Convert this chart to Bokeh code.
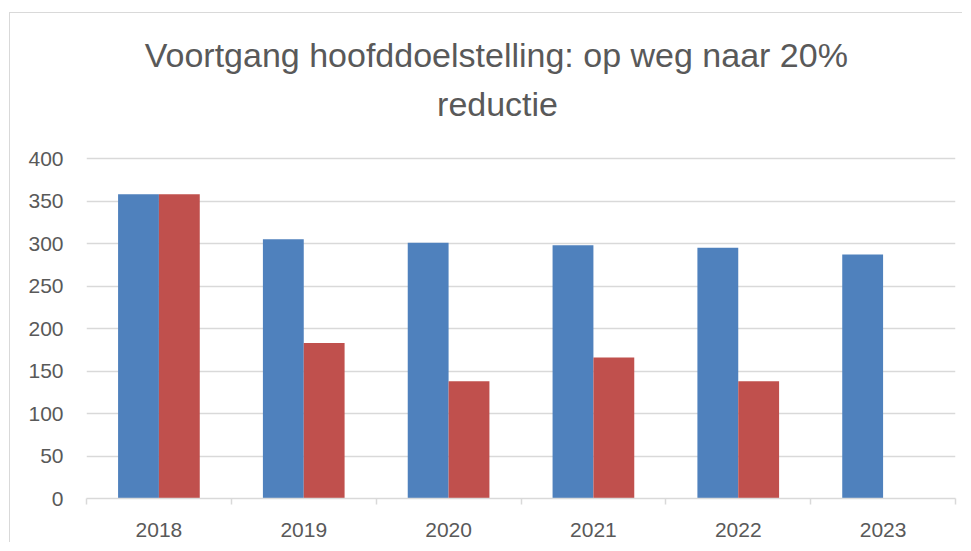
import numpy as np
from bokeh.plotting import figure
from bokeh.models import Range1d, FixedTicker, Label, ColumnDataSource
from bokeh.embed import file_html
from bokeh.resources import INLINE

# ---- data ----
years = ["2018", "2019", "2020", "2021", "2022", "2023"]
blue_values = [358, 305, 301, 298, 295, 287]
red_values = [358, 183, 138, 166, 138, np.nan]
title_line1 = "Voortgang hoofddoelstelling:  op weg naar 20%"
title_line2 = "reductie"
y_ticks = [0, 50, 100, 150, 200, 250, 300, 350, 400]

BLUE = "#4F81BD"
RED = "#C0504D"
GRID = "#D9D9D9"
TEXT = "#595959"
FONT = "Liberation Sans"

idx = np.arange(len(years))
centers = idx + 0.5
bar_w = 0.282

src = ColumnDataSource(dict(
    xb=centers - bar_w / 2, xr=centers + bar_w / 2,
    blue=blue_values, red=red_values,
))

# frame extends above the 400 grid line to leave room for the title
p = figure(width=953, height=530, output_backend="svg", toolbar_location=None,
           x_range=Range1d(0, len(years)), y_range=Range1d(0, 560),
           min_border_left=76, min_border_right=8, min_border_top=9,
           min_border_bottom=45)
p.margin = (12, 0, 0, 9)
p.styles = {"border-left": "1px solid #D9D9D9", "border-top": "1px solid #D9D9D9"}
p.outline_line_color = None
p.background_fill_color = "white"
p.border_fill_color = "white"

p.vbar(x="xb", top="blue", width=bar_w, source=src, fill_color=BLUE, line_color=None)
p.vbar(x="xr", top="red", width=bar_w, source=src, fill_color=RED, line_color=None)

# title, two centred lines
for txt, yy, xx in [(title_line1, 521.2, 2.862), (title_line2, 464.7, 2.838)]:
    p.add_layout(Label(x=xx, y=yy, text=txt, text_align="center",
                       text_baseline="alphabetic", text_font=FONT,
                       text_font_size="34px", text_color=TEXT))

# x axis
xa = p.xaxis[0]
xa.ticker = FixedTicker(ticks=list(centers), minor_ticks=list(np.arange(len(years) + 1)))
xa.major_label_overrides = {float(c): y for c, y in zip(centers, years)}
xa.axis_line_color = GRID
xa.axis_line_width = 1.5
xa.major_tick_line_color = None
xa.major_tick_out = 0
xa.major_tick_in = 0
xa.minor_tick_line_color = GRID
xa.minor_tick_line_width = 1.5
xa.minor_tick_out = 6
xa.minor_tick_in = 0
xa.major_label_text_font = FONT
xa.major_label_text_font_size = "21px"
xa.major_label_text_color = TEXT
xa.major_label_standoff = 18

# y axis
ya = p.yaxis[0]
ya.ticker = FixedTicker(ticks=y_ticks)
ya.axis_line_color = None
ya.major_tick_line_color = None
ya.minor_tick_line_color = None
ya.major_tick_out = 0
ya.major_tick_in = 0
ya.major_label_text_font = FONT
ya.major_label_text_font_size = "21px"
ya.major_label_text_color = TEXT
ya.major_label_standoff = 23

p.xgrid.grid_line_color = None
p.ygrid.grid_line_color = GRID
p.ygrid.grid_line_width = 1.5

open("out.html", "w").write(file_html(p, INLINE))
